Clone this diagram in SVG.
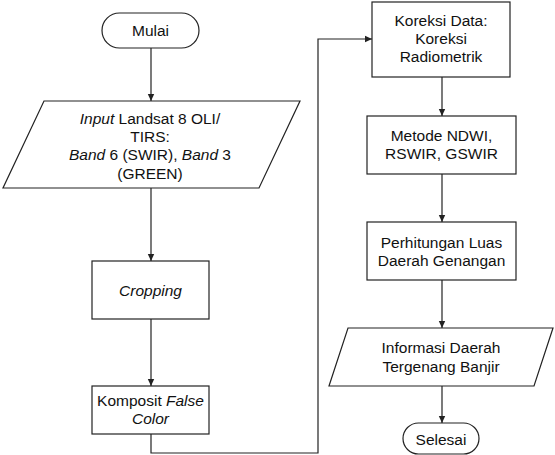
<svg xmlns="http://www.w3.org/2000/svg" width="555" height="455" viewBox="0 0 555 455">
<style>
.s{fill:#fff;stroke:#222;stroke-width:1.2}
.c{fill:none;stroke:#222;stroke-width:1.2}
text{font-family:"Liberation Sans",Arial,sans-serif;font-size:15.5px;fill:#111;text-anchor:middle}
.i{font-style:italic}
</style>
<defs>
<marker id="a" markerWidth="8" markerHeight="8" refX="7" refY="4" orient="auto" markerUnits="userSpaceOnUse">
<path d="M0,0.8 L7,4 L0,7.2 Z" fill="#222"/>
</marker>
</defs>
<rect width="555" height="455" fill="#fff"/>
<g id="connectors">
<path class="c" d="M151,48 V101" marker-end="url(#a)"/>
<path class="c" d="M151,188 V261" marker-end="url(#a)"/>
<path class="c" d="M151,319 V386" marker-end="url(#a)"/>
<path class="c" d="M151,434 V453 H318 V39 H372" marker-end="url(#a)"/>
<path class="c" d="M442,77 V116" marker-end="url(#a)"/>
<path class="c" d="M442,174 V222" marker-end="url(#a)"/>
<path class="c" d="M442,280 V328" marker-end="url(#a)"/>
<path class="c" d="M442,386 V423" marker-end="url(#a)"/>
</g>
<g id="mulai">
<rect class="s" x="102" y="13" width="97" height="35" rx="17.5"/>
<text x="150.5" y="36">Mulai</text>
</g>
<g id="input">
<polygon class="s" points="44,101 300,101 259,188 3,188"/>
<text x="150" y="124"><tspan class="i">Input</tspan> Landsat 8 OLI/</text>
<text x="150" y="142">TIRS:</text>
<text x="150" y="160"><tspan class="i">Band</tspan> 6 (SWIR), <tspan class="i">Band</tspan> 3</text>
<text x="150" y="179">(GREEN)</text>
</g>
<g id="cropping">
<rect class="s" x="92" y="261" width="117" height="58"/>
<text class="i" x="150.5" y="296">Cropping</text>
</g>
<g id="komposit">
<rect class="s" x="92" y="386" width="117" height="48"/>
<text x="150.5" y="406">Komposit <tspan class="i">False</tspan></text>
<text class="i" x="150.5" y="424">Color</text>
</g>
<g id="koreksi">
<rect class="s" x="372" y="2" width="138" height="75"/>
<text x="441" y="26">Koreksi Data:</text>
<text x="441" y="44">Koreksi</text>
<text x="441" y="62">Radiometrik</text>
</g>
<g id="metode">
<rect class="s" x="367" y="116" width="149" height="58"/>
<text x="441.5" y="141">Metode NDWI,</text>
<text x="441.5" y="159">RSWIR, GSWIR</text>
</g>
<g id="perhitungan">
<rect class="s" x="367" y="222" width="149" height="58"/>
<text x="441.5" y="248">Perhitungan Luas</text>
<text x="441.5" y="266">Daerah Genangan</text>
</g>
<g id="informasi">
<polygon class="s" points="348,328 553,328 534,386 329,386"/>
<text x="441" y="353">Informasi Daerah</text>
<text x="441" y="372">Tergenang Banjir</text>
</g>
<g id="selesai">
<rect class="s" x="403" y="423" width="76" height="31" rx="15.5"/>
<text x="441" y="445">Selesai</text>
</g>
</svg>
